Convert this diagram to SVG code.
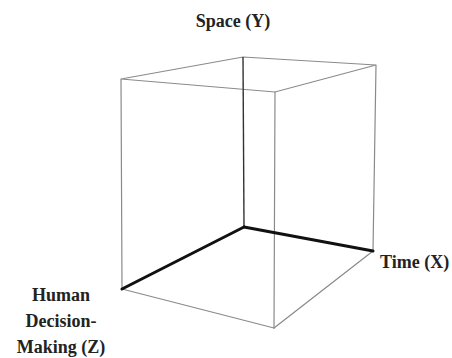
<svg xmlns="http://www.w3.org/2000/svg" width="452" height="358" viewBox="0 0 452 358">
<style>
.edge{stroke:#8a8a8a;stroke-width:1.2;fill:none;stroke-linecap:round}
.yaxis{stroke:#333;stroke-width:1.4;fill:none}
.axis{stroke:#111;stroke-width:3;fill:none;stroke-linecap:round}
.lbl{font-family:'Liberation Serif','Times New Roman','DejaVu Serif',serif;font-weight:bold;font-size:18px;fill:#222}
</style>
<rect width="452" height="358" fill="#fff"/>
<g id="connectors">
<polygon class="edge" points="121,79 243,57 376,65 275,92"/>
<line class="edge" x1="121" y1="79" x2="122" y2="289"/>
<line class="edge" x1="376" y1="65" x2="373" y2="251"/>
<line class="edge" x1="275" y1="92" x2="274" y2="328"/>
<line class="edge" x1="122" y1="289" x2="274" y2="328"/>
<line class="edge" x1="274" y1="328" x2="373" y2="251"/>
<line class="yaxis" x1="243" y1="57" x2="244" y2="227"/>
<line class="axis" x1="244" y1="227" x2="373" y2="251"/>
<line class="axis" x1="244" y1="227" x2="122" y2="289"/>
</g>
<g id="space-y"><text class="lbl" font-family="Liberation Serif, serif" x="233" y="27" text-anchor="middle" font-size="19">Space (Y)</text></g>
<g id="time-x"><text class="lbl" font-family="Liberation Serif, serif" x="380" y="268">Time (X)</text></g>
<g id="human-z"><text class="lbl" font-family="Liberation Serif, serif" text-anchor="middle"><tspan x="61" y="301">Human</tspan><tspan x="61" y="327">Decision-</tspan><tspan x="61" y="353">Making (Z)</tspan></text></g>
</svg>
